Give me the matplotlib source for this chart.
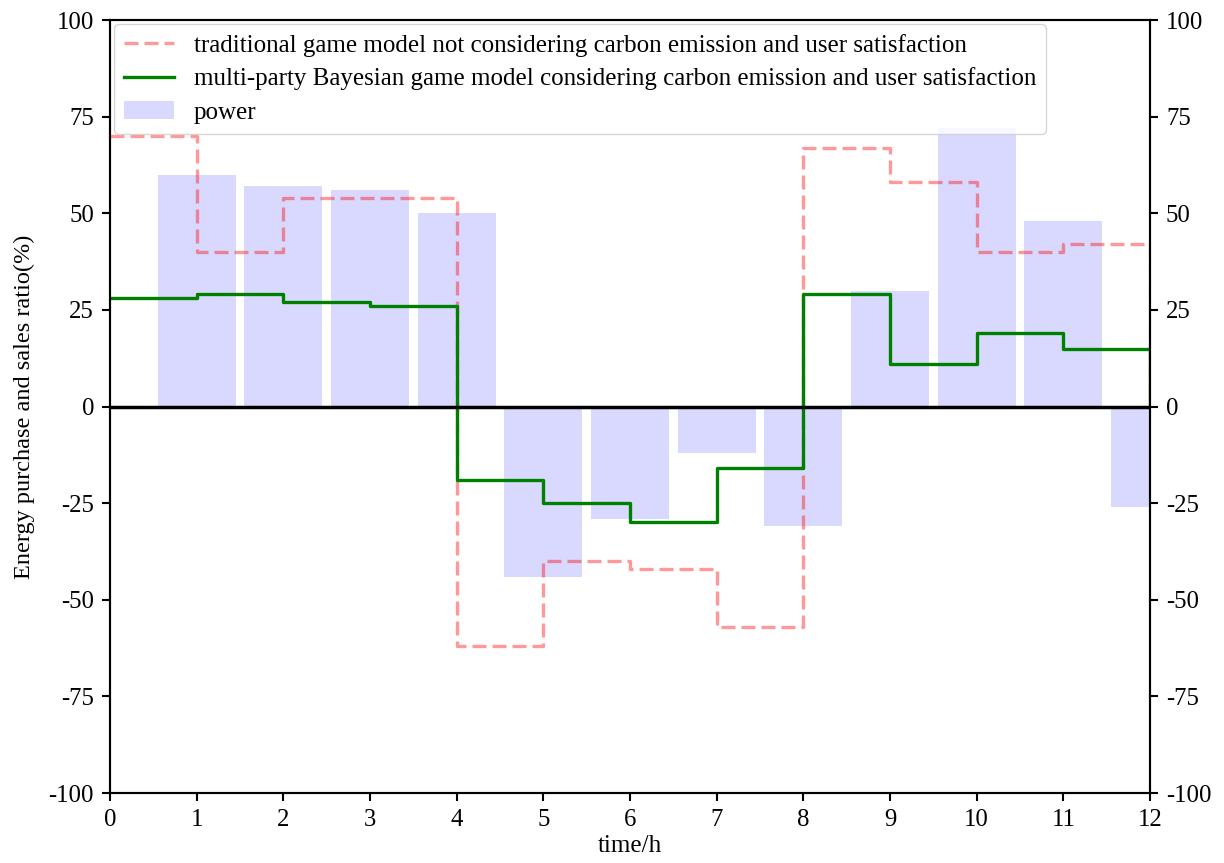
import matplotlib
matplotlib.use("Agg")
import matplotlib.pyplot as plt
import numpy as np

plt.rcParams['font.family'] = ['Liberation Serif', 'DejaVu Serif']
plt.rcParams['axes.unicode_minus'] = False

hours = [0, 1, 2, 3, 4, 5, 6, 7, 8, 9, 10, 11, 12]
traditional = [70, 40, 54, 54, -62, -40, -42, -57, 67, 58, 40, 42, 0]
bayesian = [28, 29, 27, 26, -19, -25, -30, -16, 29, 11, 19, 15, 0]
bar_hours = [1, 2, 3, 4, 5, 6, 7, 8, 9, 10, 11, 12]
power = [60, 57, 56, 50, -44, -29, -12, -31, 30, 72, 48, -26]
yticks = [-100, -75, -50, -25, 0, 25, 50, 75, 100]
labels = ["traditional game model not considering carbon emission and user satisfaction",
          "multi-party Bayesian game model considering carbon emission and user satisfaction",
          "power"]

fig = plt.figure(figsize=(12.24, 8.63), dpi=100)
ax = fig.add_axes([110/1224, 70/863, 1040/1224, 773/863])

ax.bar(bar_hours, power, width=0.9, color='blue', alpha=0.15, label=labels[2], zorder=1)
ax.step(hours, traditional, where='post', color='red', alpha=0.4, linestyle='--', lw=2.4,
        dashes=(4.2, 1.8), label=labels[0], zorder=2)
ax.step(hours, bayesian, where='post', color='green', lw=2.4, label=labels[1], zorder=3)
ax.axhline(0, color='black', lw=2.5, zorder=4)

ax.set_xlim(0, 12)
ax.set_ylim(-100, 100)
ax.set_xticks(hours)
ax.set_yticks(yticks)
ax.tick_params(labelsize=17.8, width=1.5, length=6, pad=5.5)
for s in ax.spines.values():
    s.set_linewidth(1.5)
ax.set_xlabel("time/h", fontsize=18, labelpad=3)
ax.set_ylabel("Energy purchase and sales ratio(%)", fontsize=17.5, labelpad=10)

h, l = ax.get_legend_handles_labels()
hd = dict(zip(l, h))
ax.legend([hd[x] for x in labels], labels, loc='upper left', fontsize=18,
          borderaxespad=0.15, labelspacing=0.43)

ax2 = ax.twinx()
ax2.set_ylim(-100, 100)
ax2.set_yticks(yticks)
ax2.tick_params(labelsize=17.8, width=1.5, length=6, pad=5.5)
for s in ax2.spines.values():
    s.set_linewidth(1.5)

fig.savefig("out.png", dpi=100)
